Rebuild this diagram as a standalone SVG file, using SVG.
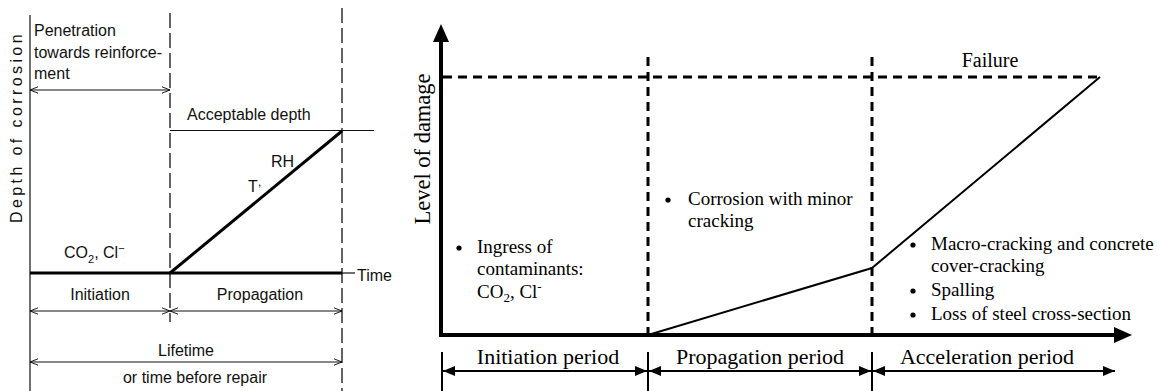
<svg xmlns="http://www.w3.org/2000/svg" width="1159" height="391" viewBox="0 0 1159 391">
<defs>
<style>
.sans{font-family:"Liberation Sans",Arial,sans-serif;font-size:16px;fill:#111}
.serif{font-family:"Liberation Serif","Times New Roman",serif;font-size:19px;fill:#000}
.period{font-size:22px}
.thin{stroke:#111;stroke-width:1.2;fill:none}
.thick{stroke:#000;stroke-width:3;fill:none}
.ldash{stroke:#111;stroke-width:1.3;fill:none;stroke-dasharray:15 5}
.rdash{stroke:#000;stroke-width:3;fill:none;stroke-dasharray:9 6}
.axis{stroke:#000;stroke-width:4;fill:none}
.dim{stroke:#000;stroke-width:2;fill:none}
</style>
<marker id="open" viewBox="0 0 10 10" refX="10" refY="5" markerWidth="8" markerHeight="8" markerUnits="userSpaceOnUse" orient="auto-start-reverse">
<path d="M0,1 L10,5 L0,9" fill="none" stroke="#111" stroke-width="1.2"/>
</marker>
<marker id="fill" viewBox="0 0 12 10" refX="12" refY="5" markerWidth="12" markerHeight="10" markerUnits="userSpaceOnUse" orient="auto-start-reverse">
<path d="M0,0 L12,5 L0,10 Z" fill="#000"/>
</marker>
</defs>

<!-- LEFT DIAGRAM -->
<g id="left-axes">
<line class="thin" x1="30" y1="15" x2="30" y2="391"/>
<line class="ldash" x1="170" y1="13" x2="170" y2="322"/>
<line class="ldash" x1="342" y1="8" x2="342" y2="391"/>
<line class="thick" x1="30" y1="273" x2="342" y2="273"/>
<line class="thin" x1="342" y1="273" x2="355" y2="273"/>
<text class="sans" x="357" y="281">Time</text>
<text class="sans" transform="translate(22,127) rotate(-90)" text-anchor="middle" letter-spacing="3.4">Depth of corrosion</text>
</g>
<g id="left-penetration">
<text class="sans" x="34" y="36">Penetration</text>
<text class="sans" x="34" y="58">towards reinforce-</text>
<text class="sans" x="34" y="79">ment</text>
</g>
<g id="left-acceptable">
<text class="sans" x="187" y="120">Acceptable depth</text>
<line class="thin" x1="170" y1="130.5" x2="374" y2="130.5"/>
</g>
<g id="left-curve">
<line class="thick" x1="170" y1="273" x2="342" y2="131" stroke-width="3.5"/>
<text class="sans" x="271" y="167">RH</text>
<text class="sans" x="248" y="192">T</text>
<text class="sans" x="258" y="186" style="font-size:12px">,</text>
<text class="sans" x="64" y="258">CO<tspan style="font-size:11px" dy="5">2</tspan><tspan dy="-5">, Cl</tspan><tspan style="font-size:11px" dy="-6">−</tspan></text>
</g>
<g id="left-periods">
<text class="sans" x="100" y="300" text-anchor="middle">Initiation</text>
<text class="sans" x="260" y="300" text-anchor="middle">Propagation</text>
<text class="sans" x="186" y="356" text-anchor="middle">Lifetime</text>
<text class="sans" x="195" y="383" text-anchor="middle">or time before repair</text>
</g>

<!-- RIGHT DIAGRAM -->
<g id="right-axes">
<line class="axis" x1="441" y1="335" x2="441" y2="40"/>
<path d="M441,24 L433,42 L449,42 Z" fill="#000"/>
<line class="axis" x1="439" y1="335" x2="1116" y2="335"/>
<path d="M1132,335 L1114,327 L1114,343 Z" fill="#000"/>
<text class="serif" transform="translate(430,149) rotate(-90)" text-anchor="middle" style="font-size:22.5px">Level of damage</text>
</g>
<g id="right-grid">
<line class="rdash" x1="443" y1="77" x2="1098" y2="77"/>
<line class="rdash" x1="648" y1="57" x2="648" y2="335"/>
<line class="rdash" x1="872" y1="57" x2="872" y2="335"/>
<text class="serif" x="990" y="67" text-anchor="middle" style="font-size:20px">Failure</text>
</g>
<g id="right-curve">
<polyline points="648,335 872,268 1100,77" fill="none" stroke="#000" stroke-width="2"/>
</g>
<g id="initiation-notes">
<circle cx="459" cy="248" r="2.6" fill="#000"/>
<text class="serif" x="477" y="253">Ingress of</text>
<text class="serif" x="477" y="275">contaminants:</text>
<text class="serif" x="477" y="298">CO<tspan style="font-size:13px" dy="4">2</tspan><tspan dy="-4">, Cl</tspan><tspan style="font-size:13px" dy="-7">-</tspan></text>
</g>
<g id="propagation-notes">
<circle cx="668" cy="200" r="2.6" fill="#000"/>
<text class="serif" x="688" y="205">Corrosion with minor</text>
<text class="serif" x="688" y="227">cracking</text>
</g>
<g id="acceleration-notes">
<circle cx="913" cy="245" r="2.6" fill="#000"/>
<text class="serif" x="931" y="250">Macro-cracking and concrete</text>
<text class="serif" x="931" y="272">cover-cracking</text>
<circle cx="913" cy="291" r="2.6" fill="#000"/>
<text class="serif" x="931" y="296">Spalling</text>
<circle cx="913" cy="315" r="2.6" fill="#000"/>
<text class="serif" x="931" y="320">Loss of steel cross-section</text>
</g>

<!-- CONNECTORS / DIMENSION ARROWS -->
<g id="connectors">
<line class="thin" x1="30" y1="90" x2="170" y2="90" marker-start="url(#open)" marker-end="url(#open)"/>
<line class="thin" x1="30" y1="311" x2="170" y2="311" marker-start="url(#open)" marker-end="url(#open)"/>
<line class="thin" x1="170" y1="311" x2="342" y2="311" marker-start="url(#open)" marker-end="url(#open)"/>
<line class="thin" x1="30" y1="362" x2="342" y2="362" marker-start="url(#open)" marker-end="url(#open)"/>
<line class="dim" x1="442" y1="352" x2="442" y2="391"/>
<line class="dim" x1="648" y1="352" x2="648" y2="391"/>
<line class="dim" x1="872" y1="352" x2="872" y2="391"/>
<line class="dim" x1="443" y1="371" x2="647" y2="371" marker-start="url(#fill)" marker-end="url(#fill)"/>
<line class="dim" x1="649" y1="371" x2="871" y2="371" marker-start="url(#fill)" marker-end="url(#fill)"/>
<line class="dim" x1="873" y1="371" x2="1115" y2="371" marker-start="url(#fill)" marker-end="url(#fill)"/>
<text class="serif period" x="548" y="364" text-anchor="middle">Initiation period</text>
<text class="serif period" x="760" y="364" text-anchor="middle">Propagation period</text>
<text class="serif period" x="987" y="364" text-anchor="middle">Acceleration period</text>
</g>
</svg>
